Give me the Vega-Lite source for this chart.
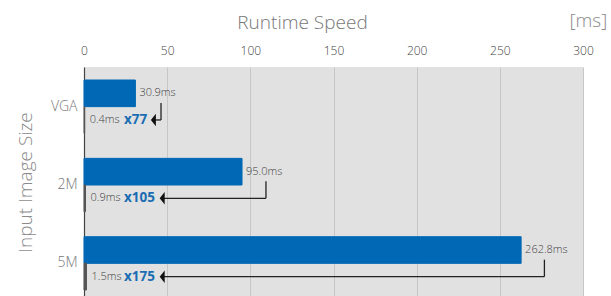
{
  "$schema": "https://vega.github.io/schema/vega-lite/v6.json",
  "autosize": "none",
  "padding": {"left": 84, "top": 67, "right": 28, "bottom": 0},
  "width": 499,
  "height": 236,
  "background": "#ffffff",
  "config": {
    "font": "Open Sans",
    "view": {"fill": "#e1e1e1", "stroke": null}
  },
  "title": {
    "text": "[ms]",
    "anchor": "end",
    "fontSize": 19,
    "fontWeight": 300,
    "color": "#8a8a8a",
    "offset": -18,
    "dx": 14
  },
  "data": {
    "values": [
      {"size": "VGA", "time": 30.9, "base": 0.4, "speedup": "x77", "timeLabel": "30.9ms", "baseLabel": "0.4ms", "bracketX": 46.3, "arrowTo": 41.7},
      {"size": "2M", "time": 95.0, "base": 0.9, "speedup": "x105", "timeLabel": "95.0ms", "baseLabel": "0.9ms", "bracketX": 109.4, "arrowTo": 47},
      {"size": "5M", "time": 262.8, "base": 1.5, "speedup": "x175", "timeLabel": "262.8ms", "baseLabel": "1.5ms", "bracketX": 276.8, "arrowTo": 47}
    ]
  },
  "encoding": {
    "y": {
      "field": "size",
      "type": "nominal",
      "sort": ["VGA", "2M", "5M"],
      "scale": {"paddingInner": 0.32, "paddingOuter": 0.166},
      "axis": {
        "title": "Input Image Size",
        "titleFontSize": 19,
        "titleFontWeight": 300,
        "titleColor": "#8a8a8a",
        "titleX": -59,
        "titleY": 115,
        "titleAlign": "center",
        "titleBaseline": "middle",
        "labelFontSize": 14,
        "labelFontWeight": 300,
        "labelColor": "#777777",
        "labelPadding": 7,
        "ticks": false,
        "grid": false,
        "domain": true,
        "domainColor": "#444444",
        "domainWidth": 1.2
      }
    }
  },
  "layer": [
    {
      "transform": [{"fold": ["time", "base"], "as": ["kind", "ms"]}],
      "mark": {"type": "bar", "strokeWidth": 1},
      "encoding": {
        "x": {
          "field": "ms",
          "type": "quantitative",
          "scale": {"domain": [0, 300], "nice": false},
          "axis": {
            "orient": "top",
            "values": [0, 50, 100, 150, 200, 250, 300],
            "grid": true,
            "gridColor": "#c6c6c6",
            "gridWidth": 1,
            "domain": false,
            "ticks": false,
            "labelFlush": false,
            "labelPadding": 10,
            "labelFontSize": 12,
            "labelFontWeight": 300,
            "labelColor": "#444444",
            "title": "Runtime Speed",
            "titleFontSize": 19,
            "titleFontWeight": 300,
            "titleColor": "#777777",
            "titleX": 218,
            "titleY": -45,
            "titleAlign": "center",
            "titleBaseline": "middle"
          }
        },
        "yOffset": {"field": "kind", "type": "nominal", "sort": ["time", "base"], "scale": {"domain": ["time", "base"]}},
        "color": {"field": "kind", "type": "nominal", "scale": {"domain": ["time", "base"], "range": ["#0068b4", "#555555"]}, "legend": null},
        "stroke": {"field": "kind", "type": "nominal", "scale": {"domain": ["time", "base"], "range": ["#0068b4", "#555555"]}, "legend": null}
      }
    },
    {
      "mark": {"type": "text", "align": "left", "baseline": "middle", "dx": 4, "fontSize": 11, "fontWeight": 300, "color": "#444444"},
      "encoding": {
        "x": {"field": "time", "type": "quantitative"},
        "yOffset": {"datum": "time"},
        "text": {"field": "timeLabel"}
      }
    },
    {
      "mark": {"type": "text", "align": "left", "baseline": "middle", "dx": 5, "fontSize": 11, "fontWeight": 300, "color": "#444444"},
      "encoding": {
        "x": {"field": "base", "type": "quantitative"},
        "yOffset": {"datum": "base"},
        "text": {"field": "baseLabel"}
      }
    },
    {
      "mark": {"type": "text", "align": "left", "baseline": "middle", "dx": 40, "fontSize": 13.5, "fontWeight": "bold", "color": "#1a6db3"},
      "encoding": {
        "x": {"datum": 0, "type": "quantitative"},
        "yOffset": {"datum": "base"},
        "text": {"field": "speedup"}
      }
    },
    {
      "mark": {"type": "point", "shape": "M 0 0 L 0 -6.8", "size": 25, "filled": false, "stroke": "#222222", "strokeWidth": 1.3, "opacity": 1},
      "encoding": {
        "x": {"field": "bracketX", "type": "quantitative"},
        "yOffset": {"datum": "base"}
      }
    },
    {
      "mark": {"type": "rule", "color": "#222222", "strokeWidth": 1.3},
      "encoding": {
        "x": {"field": "arrowTo", "type": "quantitative"},
        "x2": {"field": "bracketX"},
        "yOffset": {"datum": "base"}
      }
    },
    {
      "mark": {"type": "point", "shape": "M -1 0 L 1 -2.5 L 1 2.5 Z", "size": 25, "filled": true, "color": "#111111", "opacity": 1},
      "encoding": {
        "x": {"field": "arrowTo", "type": "quantitative"},
        "yOffset": {"datum": "base"}
      }
    }
  ]
}
